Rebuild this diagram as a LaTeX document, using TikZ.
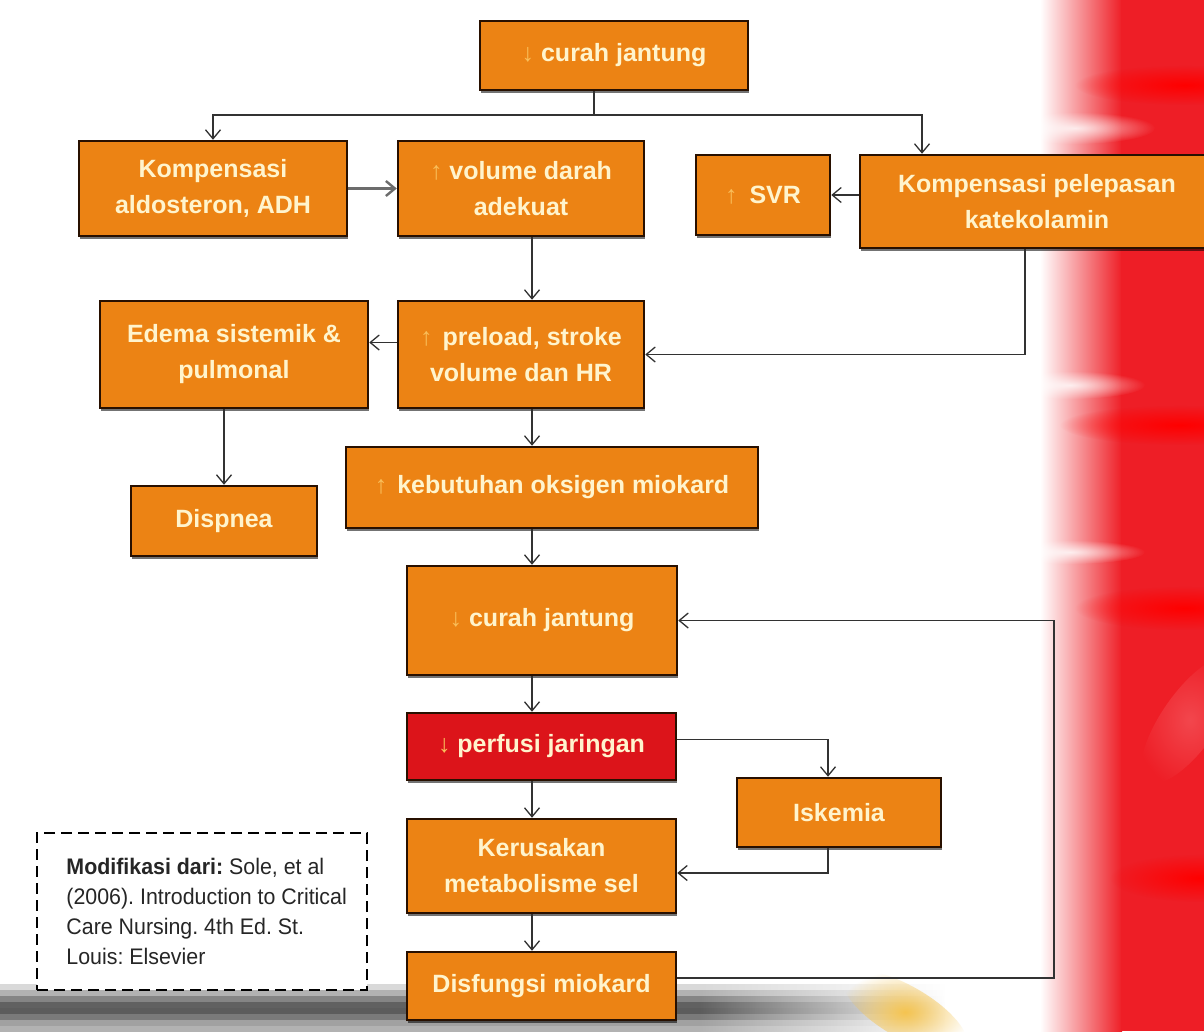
\documentclass[tikz,border=0pt]{standalone}
\usepackage{fontspec}
\setmainfont{Liberation Sans}
\newfontfamily\notefont[FakeStretch=0.95]{Liberation Sans}
\usetikzlibrary{arrows.meta,calc,shadows,fadings}

\definecolor{boxorange}{RGB}{236,131,20}
\definecolor{boxred}{RGB}{220,20,26}
\definecolor{boxline}{RGB}{40,16,0}
\definecolor{boxtext}{RGB}{255,244,205}
\definecolor{glyph}{RGB}{249,190,90}
\definecolor{linegray}{RGB}{50,50,50}
\definecolor{bgred}{RGB}{238,30,38}
\definecolor{deepred}{RGB}{255,0,0}
\definecolor{softpink}{RGB}{248,120,125}
\definecolor{gold}{RGB}{245,196,80}

% soft-edged glow used for the background streaks
\tikzfading[name=glow, inner color=transparent!0, outer color=transparent!100]

% thin coloured arrows used inside the boxes
\newcommand\UpA{{\color{glyph}\mdseries ↑}}
\newcommand\DnA{{\color{glyph}\mdseries ↓}}

\begin{document}
\begin{tikzpicture}[x=1pt,y=-1pt,
  box/.style={draw=boxline, line width=2.5pt, fill=boxorange, text=boxtext,
    font=\fontsize{25}{36}\selectfont\bfseries, align=center, inner sep=4pt,
    drop shadow={shadow xshift=0.5pt, shadow yshift=-2.5pt, fill=black, opacity=0.55}},
  hot/.style={box, fill=boxred},
  conn/.style={draw=linegray, line width=1.3pt},
  arr/.style={conn, -{Straight Barb[length=9pt,width=15pt]}},
  note/.style={draw=black, line width=1.5pt, dash pattern=on 11pt off 6pt, fill=white},
  notetext/.style={align=left, text=black!85, inner sep=0pt,
    font=\notefont\fontsize{22.5}{30}\selectfont\frenchspacing},
]
\useasboundingbox (0,0) rectangle (1204,1031);

% ---------- background ----------
\fill[white] (0,0) rectangle (1204,1031);
\shade[left color=white, right color=bgred] (1040,0) rectangle (1122,1031);
\fill[bgred] (1121,0) rectangle (1204,1031);
% blurred streaks in the red band
\fill[deepred, path fading=glow] (1185,85) ellipse (110 and 20);
\fill[deepred, path fading=glow] (1180,425) ellipse (120 and 20);
\fill[deepred, path fading=glow] (1185,608) ellipse (110 and 22);
\fill[deepred, path fading=glow] (1200,878) ellipse (90 and 24);
\fill[white, opacity=0.8, path fading=glow] (1075,128) ellipse (80 and 16);
\fill[white, opacity=0.8, path fading=glow] (1070,385) ellipse (75 and 14);
\fill[white, opacity=0.8, path fading=glow] (1070,552) ellipse (75 and 12);
\fill[softpink, opacity=0.45, path fading=glow, rotate around={-35:(1190,720)}] (1190,720) ellipse (28 and 75);
% grey bar along the bottom: solid strips, then strips fading to the right
\foreach \yy/\shadeval in {984/15, 990/30, 996/48, 1002/62, 1008/64, 1014/52, 1020/37, 1026/30}{
  \fill[black!\shadeval] (0,\yy) rectangle (700.5,\yy+7);
  \fill[black!\shadeval, path fading=east] (700,\yy) rectangle (945,\yy+6);
}
\fill[gold, path fading=glow, rotate around={-30:(905,1012)}] (905,1012) ellipse (70 and 26);

% ---------- boxes ----------
\node[box, minimum width=268, minimum height=69] (top) at (614,55.5) {\DnA\ curah jantung};
\node[box, minimum width=268, minimum height=95] (aldo) at (213,188.5) {Kompensasi\\aldosteron, ADH};
\node[box, minimum width=246, minimum height=95] (vol) at (521,188.5) {\UpA\ volume darah\\adekuat};
\node[box, minimum width=134, minimum height=80] (svr) at (763,195) {\UpA\hspace{12pt}SVR};
\node[box, minimum width=354, minimum height=93] (kat) at (1037,201.5) {Kompensasi pelepasan\\katekolamin};
\node[box, minimum width=268, minimum height=107] (ede) at (234,354.5) {Edema sistemik \&\\pulmonal};
\node[box, minimum width=246, minimum height=107] (pre) at (521,354.5) {\UpA\hspace{10pt}preload, stroke\\volume dan HR};
\node[box, minimum width=186, minimum height=70] (dis) at (224,521) {Dispnea};
\node[box, minimum width=412, minimum height=81] (keb) at (552,487.5) {\UpA\hspace{10pt}kebutuhan oksigen miokard};
\node[box, minimum width=270, minimum height=109] (cj) at (542,620.5) {\DnA\ curah jantung};
\node[hot, minimum width=269, minimum height=67] (per) at (541.5,746.5) {\DnA\ perfusi jaringan};
\node[box, minimum width=204, minimum height=69] (isk) at (839,812.5) {Iskemia};
\node[box, minimum width=269, minimum height=94] (ker) at (541.5,866) {Kerusakan\\metabolisme sel};
\node[box, minimum width=269, minimum height=68] (dsf) at (541.5,986) {Disfungsi miokard};

% reference note in a dashed frame
\node[note, minimum width=330, minimum height=157] (ref) at (202,911.5) {};
\node[notetext, anchor=west] (reftext) at ($(ref.west)+(30,0)$)
  {\textbf{Modifikasi dari:} Sole, et al\\(2006). Introduction to Critical\\Care Nursing. 4th Ed. St.\\Louis: Elsevier};

% ---------- connectors ----------
\coordinate (split) at (594,115);
\coordinate (spine) at (532,0);
\coordinate (loopx) at (1054,0);

\draw[conn] (top.south -| split) -- (split);
\draw[arr] (split) -| (aldo.north);
\draw[arr] (split) -| ($(kat.north)+(-115,0)$);
\draw[arr, line width=2.4pt, draw=gray!85!black] (aldo.east) -- (vol.west);
\draw[arr] (kat.west |- svr.east) -- (svr.east);
\draw[arr] (vol.south -| spine) -- (pre.north -| spine);
\draw[arr] ($(kat.south)+(-12,0)$) |- (pre.east);
\draw[arr] ($(pre.west)+(0,-12)$) -- ($(ede.east)+(0,-12)$);
\draw[arr] (ede.south -| dis.north) -- (dis.north);
\draw[arr] (pre.south -| spine) -- (keb.north -| spine);
\draw[arr] (keb.south -| spine) -- (cj.north -| spine);
\draw[arr] (cj.south -| spine) -- (per.north -| spine);
\draw[arr] (per.south -| spine) -- (ker.north -| spine);
\draw[arr] (ker.south -| spine) -- (dsf.north -| spine);
\draw[arr] ($(per.east)+(0,-7)$) -| ($(isk.north)+(-11,0)$);
\draw[arr] ($(isk.south)+(-11,0)$) |- ($(ker.east)+(0,7)$);
\draw[arr] ($(dsf.east)+(0,-8)$) -| (loopx |- cj.east) -- (cj.east);
\end{tikzpicture}
\end{document}
